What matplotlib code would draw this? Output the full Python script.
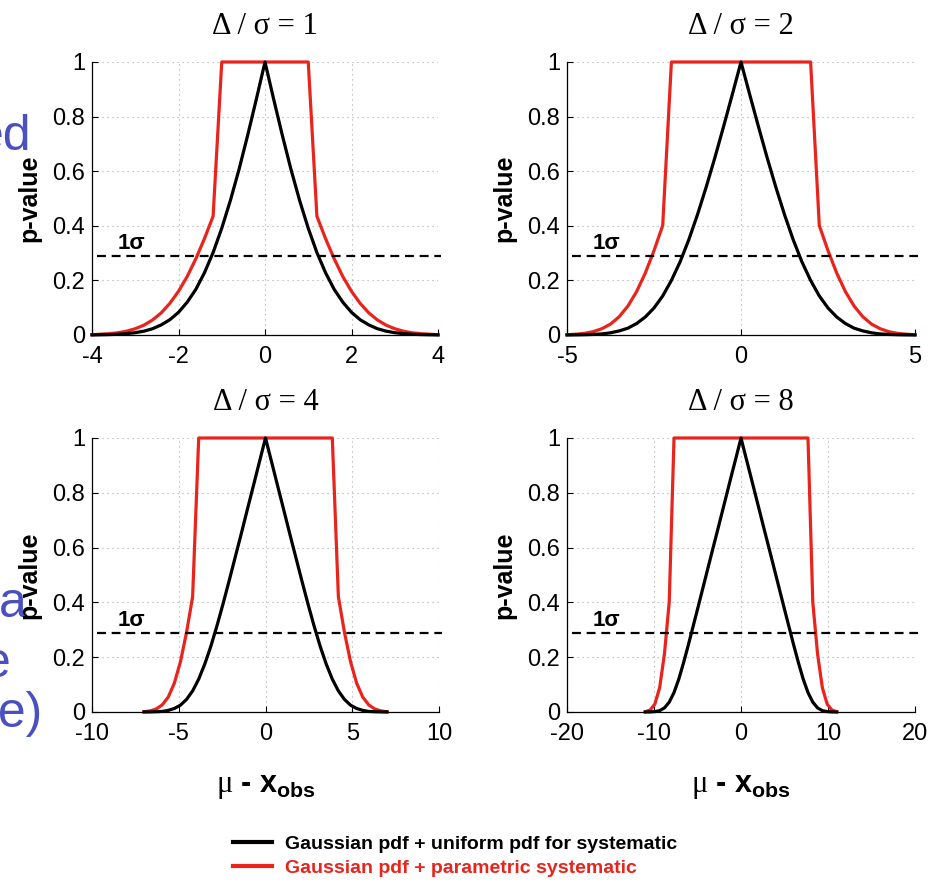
import numpy as np
import matplotlib
matplotlib.use('Agg')
import matplotlib.pyplot as plt
from matplotlib import font_manager
from matplotlib.lines import Line2D

# p-value vs (mu - x_obs), right half of each curve (curves are symmetric about 0)
# Delta / sigma = 1
x_d1 = [0.0, 0.2, 0.4, 0.6, 0.8, 1.0, 1.2, 1.4, 1.6, 1.8, 2.0,
        2.2, 2.4, 2.6, 2.8, 3.0, 3.2, 3.4, 3.6, 3.8, 4.0]
black_d1 = [1.0, 0.864, 0.732, 0.607, 0.493, 0.391, 0.302, 0.228, 0.167, 0.120, 0.083,
            0.056, 0.037, 0.023, 0.014, 0.0085, 0.0049, 0.0027, 0.0015, 0.0008, 0.0004]
red_d1 = [1.0, 1.0, 1.0, 1.0, 1.0, 1.0, 0.435, 0.353, 0.279, 0.214, 0.160,
          0.116, 0.081, 0.055, 0.036, 0.023, 0.014, 0.008, 0.005, 0.003, 0.001]

# Delta / sigma = 2
x_d2 = [0.0, 0.25, 0.5, 0.75, 1.0, 1.25, 1.5, 1.75, 2.0, 2.25, 2.5,
        2.75, 3.0, 3.25, 3.5, 3.75, 4.0, 4.25, 4.5, 4.75, 5.0]
black_d2 = [1.0, 0.881, 0.764, 0.650, 0.542, 0.441, 0.349, 0.268, 0.200, 0.143, 0.099,
            0.066, 0.042, 0.025, 0.015, 0.008, 0.004, 0.002, 0.001, 0.0004, 0.0002]
red_d2 = [1.0, 1.0, 1.0, 1.0, 1.0, 1.0, 1.0, 1.0, 1.0, 0.401, 0.309,
          0.227, 0.159, 0.106, 0.067, 0.040, 0.023, 0.012, 0.006, 0.003, 0.001]

# Delta / sigma = 4
x_d4 = [0.0, 0.35, 0.7, 1.05, 1.4, 1.75, 2.1, 2.45, 2.8, 3.15, 3.5,
        3.85, 4.2, 4.55, 4.9, 5.25, 5.6, 5.95, 6.3, 6.65, 7.0]
black_d4 = [1.0, 0.913, 0.825, 0.738, 0.650, 0.564, 0.478, 0.394, 0.314, 0.240, 0.175,
            0.120, 0.077, 0.046, 0.025, 0.013, 0.006, 0.002, 0.001, 0.0003, 0.0001]
red_d4 = [1.0, 1.0, 1.0, 1.0, 1.0, 1.0, 1.0, 1.0, 1.0, 1.0, 1.0,
          1.0, 0.421, 0.291, 0.184, 0.106, 0.055, 0.026, 0.011, 0.004, 0.001]

# Delta / sigma = 8
x_d8 = [0.0, 0.55, 1.1, 1.65, 2.2, 2.75, 3.3, 3.85, 4.4, 4.95, 5.5,
        6.05, 6.6, 7.15, 7.7, 8.25, 8.8, 9.35, 9.9, 10.45, 11.0]
black_d8 = [1.0, 0.931, 0.863, 0.794, 0.725, 0.656, 0.588, 0.519, 0.450, 0.381, 0.313,
            0.245, 0.180, 0.120, 0.071, 0.036, 0.015, 0.005, 0.0014, 0.0003, 0.0001]
red_d8 = [1.0, 1.0, 1.0, 1.0, 1.0, 1.0, 1.0, 1.0, 1.0, 1.0, 1.0,
          1.0, 1.0, 1.0, 1.0, 0.401, 0.212, 0.089, 0.029, 0.007, 0.001]

ratios = [1, 2, 4, 8]
xs = [x_d1, x_d2, x_d4, x_d8]
blacks = [black_d1, black_d2, black_d4, black_d8]
reds = [red_d1, red_d2, red_d4, red_d8]
xlims = [(-4, 4), (-5, 5), (-10, 10), (-20, 20)]
xticks = [[-4, -2, 0, 2, 4], [-5, 0, 5], [-10, -5, 0, 5, 10], [-20, -10, 0, 10, 20]]
yticks = [0, 0.2, 0.4, 0.6, 0.8, 1]
ytick_labels = ['0', '0.2', '0.4', '0.6', '0.8', '1']
one_sigma = 0.29

legend_labels = ['Gaussian pdf + uniform pdf for systematic',
                 'Gaussian pdf + parametric systematic']

RED = '#e8241c'
BLUE = '#4b50c0'

plt.rcParams['font.family'] = ['Liberation Sans', 'DejaVu Sans']
plt.rcParams['axes.unicode_minus'] = False
plt.rcParams['mathtext.fontset'] = 'custom'
plt.rcParams['mathtext.rm'] = 'Liberation Serif'
plt.rcParams['mathtext.bf'] = 'Liberation Sans:bold'


def mirror(x, y):
    x = np.asarray(x)
    y = np.asarray(y)
    return np.concatenate([-x[:0:-1], x]), np.concatenate([y[:0:-1], y])


fig = plt.figure(figsize=(9.39, 8.92), dpi=100)
W, H = 939.0, 892.0
# axes boxes in pixels: left, top, right, bottom
boxes = [(92, 62, 438, 335), (567, 62, 915, 335),
         (92, 438, 439, 712), (567, 438, 915, 712)]

for i in range(4):
    l, t, r, b = boxes[i]
    ax = fig.add_axes([l / W, 1 - b / H, (r - l) / W, (b - t) / H])

    xr, yr = mirror(xs[i], reds[i])
    xb, yb = mirror(xs[i], blacks[i])
    ax.plot(xr, yr, color=RED, lw=2.3, clip_on=False, zorder=3)
    ax.plot(xb, yb, color='k', lw=2.3, clip_on=False, zorder=4)

    # 1 sigma reference line
    ax.plot([0.015, 1.01], [one_sigma, one_sigma], transform=ax.get_yaxis_transform(),
            color='k', lw=1.6, dashes=(4, 2.6), clip_on=False, zorder=5)
    ax.text(0.075, one_sigma + 0.025, '1σ', transform=ax.get_yaxis_transform(),
            fontsize=16, fontweight='bold', va='baseline', ha='left')

    ax.set_xlim(*xlims[i])
    ax.set_ylim(0, 1)
    ax.set_xticks(xticks[i])
    ax.set_xticklabels([str(v) for v in xticks[i]])
    ax.set_yticks(yticks)
    ax.set_yticklabels(ytick_labels)
    ax.grid(True, color='#a8a8a8', linestyle=(0, (1, 3.5)), lw=0.8)
    ax.set_axisbelow(True)
    for s in ['top', 'right']:
        ax.spines[s].set_visible(False)
    ax.spines['left'].set_linewidth(0.9)
    ax.spines['bottom'].set_linewidth(0.9)
    ax.tick_params(direction='in', length=4, width=0.8, labelsize=17)
    ax.tick_params(axis='x', pad=8)
    ax.tick_params(axis='y', pad=5)

    ax.set_title('Δ / σ = %d' % ratios[i], family='Liberation Serif', fontsize=22, pad=20)
    ax.set_ylabel('p-value', fontsize=18, fontweight='bold')
    ax.yaxis.set_label_coords(-0.145, 0.5)
    if i >= 2:
        ax.set_xlabel(r'$\mathrm{\mu}$ - x$_{\mathbf{obs}}$', fontsize=22, fontweight='bold')
        ax.xaxis.set_label_coords(0.5, -0.215)

# legend
available = {f.name for f in font_manager.fontManager.ttflist}
if 'Liberation Sans Narrow' in available:
    leg_prop = dict(family='Liberation Sans Narrow', weight='bold', size=17)
else:
    leg_prop = dict(family='Liberation Sans', weight='bold', size=14)
handles = [Line2D([], [], color='k', lw=3), Line2D([], [], color=RED, lw=3)]
fig.legend(handles, legend_labels, loc='center left', bbox_to_anchor=(233 / W, 1 - 856 / H),
           frameon=False, prop=leg_prop, handlelength=2.0, handletextpad=0.65,
           labelspacing=0.3, borderpad=0, borderaxespad=0, labelcolor='linecolor')

# fragments of slide text along the left edge
fig.text(31 / W, 1 - 150 / H, 'ed', ha='right', va='baseline', fontsize=36, color=BLUE, zorder=-1)
fig.text(27 / W, 1 - 617 / H, 'a', ha='right', va='baseline', fontsize=36, color=BLUE, zorder=-1)
fig.text(11 / W, 1 - 677 / H, 'e', ha='right', va='baseline', fontsize=36, color=BLUE, zorder=-1)
fig.text(43 / W, 1 - 727 / H, 'ue)', ha='right', va='baseline', fontsize=36, color=BLUE, zorder=-1)

fig.savefig('out.png', dpi=100)
